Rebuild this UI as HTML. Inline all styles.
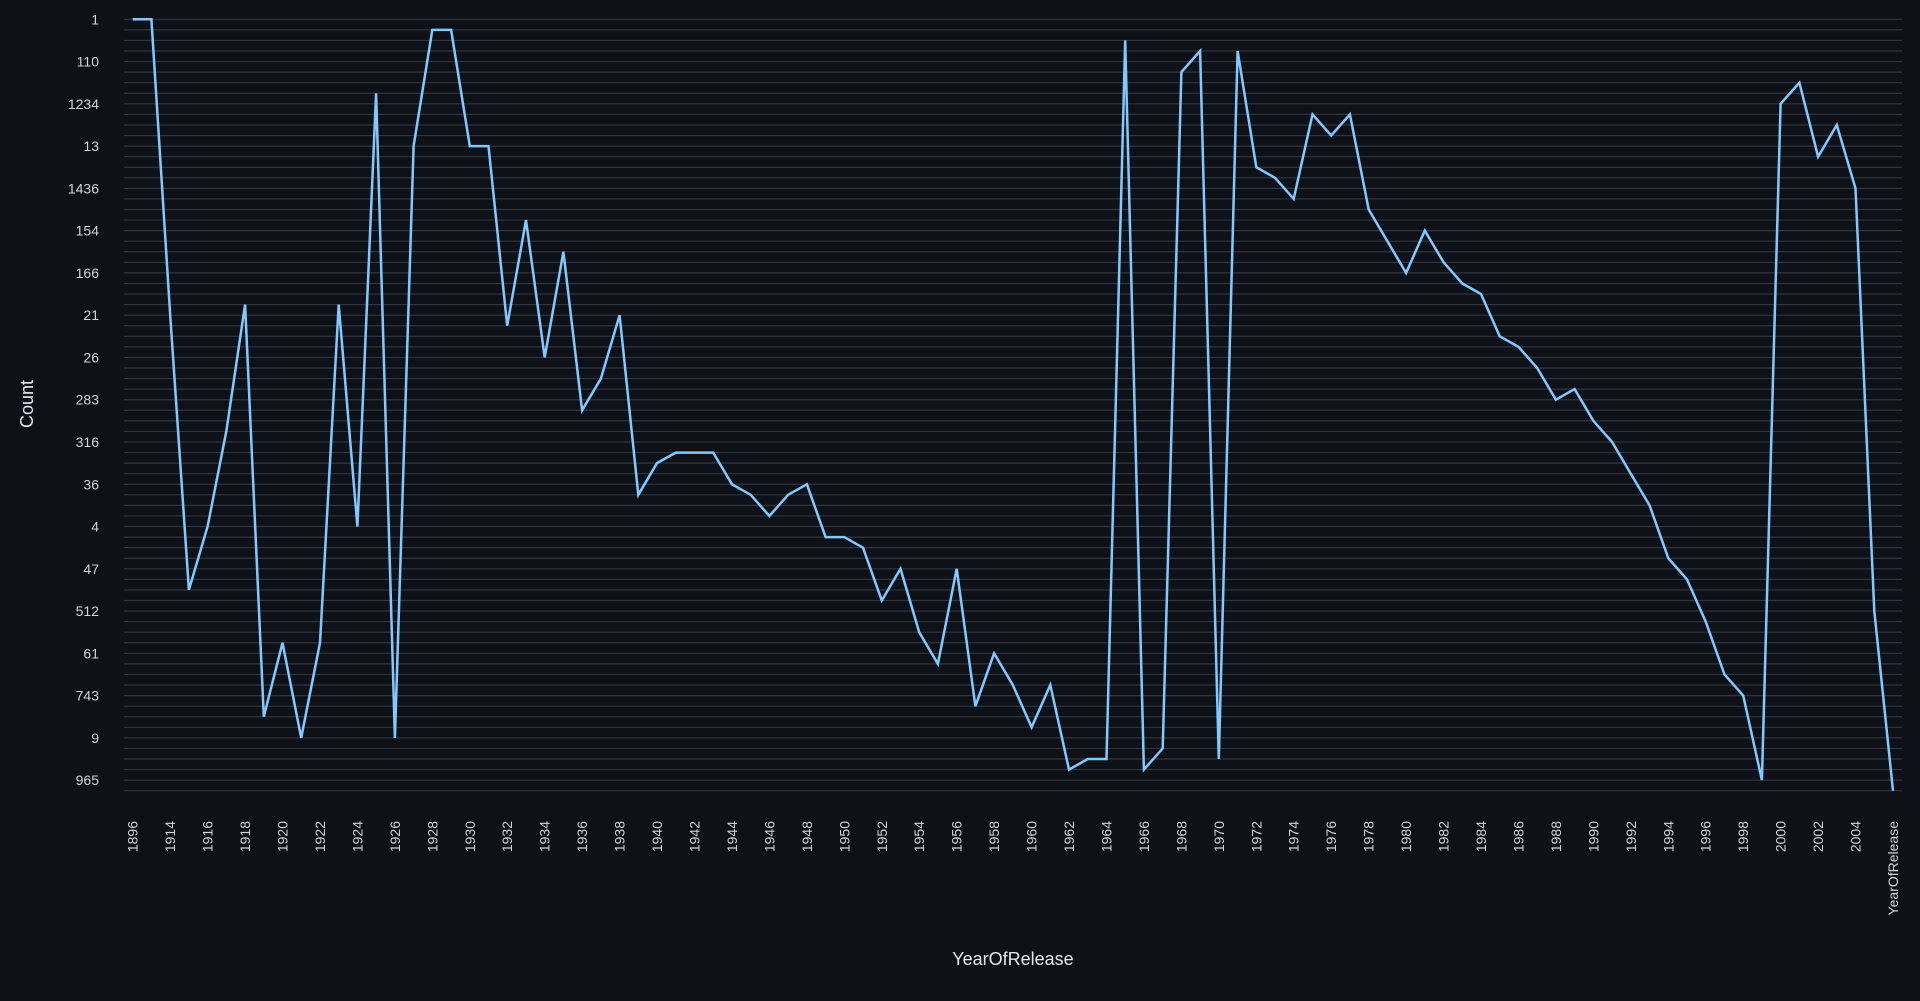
<!DOCTYPE html>
<html><head><meta charset="utf-8"><style>
html,body{margin:0;padding:0;background:#0e1117;width:1920px;height:1001px;overflow:hidden}
svg{display:block;font-family:"Liberation Sans",sans-serif}
</style></head><body>
<svg id="chart" width="1920" height="1001" viewBox="0 0 1920 1001">
<rect width="1920" height="1001" fill="#0e1117"/>
<g id="grid"></g><g id="ylabels"></g><g id="xlabels"></g><g id="series"></g>
<text x="1013" y="965" fill="#e6e8ec" font-size="18" text-anchor="middle">YearOfRelease</text>
<text transform="translate(33,404) rotate(-90)" fill="#e6e8ec" font-size="18" text-anchor="middle">Count</text>
</svg>
<script>
const yCategories=["1","10","100","11","110","111","12","123","1234","125","126","127","13","130","14","143","1436","144","15","150","154","155","16","163","166","17","18","2","21","22","23","25","26","27","28","282","283","29","3","31","316","32","33","35","36","37","38","39","4","41","43","45","47","48","5","51","512","53","56","6","61","64","7","71","743","75","8","83","9","92","94","96","965","97"];
const yTickLabels=["1","110","1234","13","1436","154","166","21","26","283","316","36","4","47","512","61","743","9","965"];
const xCategories=["1896","1913","1914","1915","1916","1917","1918","1919","1920","1921","1922","1923","1924","1925","1926","1927","1928","1929","1930","1931","1932","1933","1934","1935","1936","1937","1938","1939","1940","1941","1942","1943","1944","1945","1946","1947","1948","1949","1950","1951","1952","1953","1954","1955","1956","1957","1958","1959","1960","1961","1962","1963","1964","1965","1966","1967","1968","1969","1970","1971","1972","1973","1974","1975","1976","1977","1978","1979","1980","1981","1982","1983","1984","1985","1986","1987","1988","1989","1990","1991","1992","1993","1994","1995","1996","1997","1998","1999","2000","2001","2002","2003","2004","2005","YearOfRelease"];
const countValues=["1","1","21","5","4","31","2","8","6","9","6","2","4","123","9","13","10","10","13","13","22","150","26","16","29","28","21","37","33","32","32","32","36","37","39","37","36","41","41","43","51","47","56","64","47","75","61","71","83","71","96","94","94","100","96","92","111","11","94","11","14","143","144","125","127","125","15","155","166","154","163","17","18","23","25","27","283","282","3","316","35","38","45","48","53","7","743","965","1234","12","130","126","1436","512","97"];

const NS="http://www.w3.org/2000/svg";
const X0=132.7,X1=1893,Y0=19.3,Y1=790.7,PL=124,PR=1902;
function xPos(c){const i=xCategories.indexOf(c);return X0+i*(X1-X0)/(xCategories.length-1);}
function yPos(c){const j=yCategories.indexOf(c);return Y0+j*(Y1-Y0)/(yCategories.length-1);}
function mk(t,a){const e=document.createElementNS(NS,t);for(const k in a)e.setAttribute(k,a[k]);return e;}

const grid=document.getElementById('grid');
yCategories.forEach(c=>{
  const y=yPos(c);
  const l=mk('line',{x1:PL,x2:PR,y1:y,y2:y,stroke:'#31353f','stroke-width':1.2});
  
  
  grid.appendChild(l);
});
const yl=document.getElementById('ylabels');
yTickLabels.forEach(c=>{
  const t=mk('text',{x:99,y:yPos(c)+5,fill:'#d0d4dc','font-size':14,'text-anchor':'end'});
  t.textContent=c;
  
  
  yl.appendChild(t);
});
const xl=document.getElementById('xlabels');
xCategories.forEach((c,i)=>{
  if(i%2!==0)return;
  const x=xPos(c)+5;
  const t=mk('text',{transform:`translate(${x},821) rotate(-90)`,fill:'#d0d4dc','font-size':14,'text-anchor':'end'});
  t.textContent=c;
  
  
  xl.appendChild(t);
});
const pts=countValues.map((v,i)=>xPos(xCategories[i]).toFixed(1)+','+yPos(v).toFixed(1)).join(' ');
const line=mk('polyline',{points:pts,fill:'none',stroke:'#83c9ff','stroke-width':2.5,'stroke-linejoin':'miter'});


document.getElementById('series').appendChild(line);
</script>
</body></html>
